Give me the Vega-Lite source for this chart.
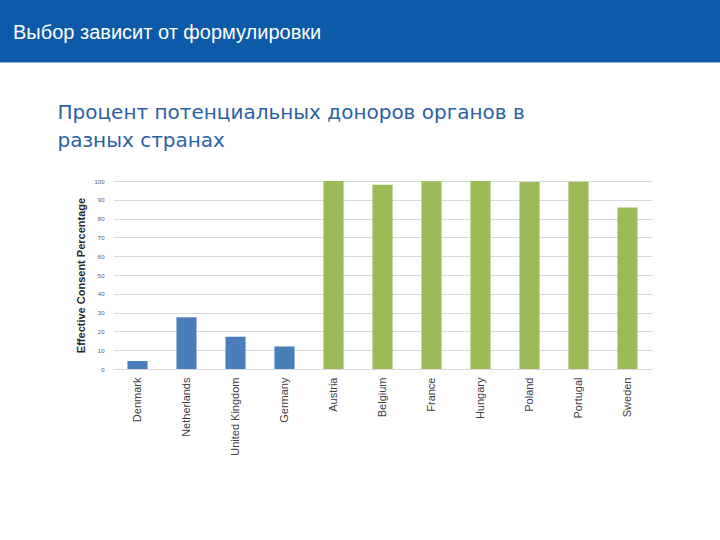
{
  "$schema": "https://vega.github.io/schema/vega-lite/v6.json",
  "width": 720,
  "height": 540,
  "autosize": "none",
  "padding": 0,
  "background": "#ffffff",
  "view": {
    "stroke": null,
    "fill": {
      "gradient": "linear",
      "x1": 0, "y1": 0, "x2": 0, "y2": 1,
      "stops": [
        {"offset": 0, "color": "#0c5aa8"},
        {"offset": 0.1148, "color": "#0c5aa8"},
        {"offset": 0.1149, "color": "#8fb0da"},
        {"offset": 0.1166, "color": "#8fb0da"},
        {"offset": 0.1167, "color": "#ffffff"},
        {"offset": 1, "color": "#ffffff"}
      ]
    }
  },
  "title": {
    "text": "Выбор зависит от формулировки",
    "anchor": "start",
    "frame": "group",
    "orient": "top",
    "offset": -43,
    "dx": 13,
    "color": "#ffffff",
    "font": "Liberation Sans",
    "fontSize": 20,
    "fontWeight": "normal"
  },
  "data": {
    "values": [
      {"country": "Denmark", "value": 4.25, "group": "Explicit consent"},
      {"country": "Netherlands", "value": 27.5, "group": "Explicit consent"},
      {"country": "United Kingdom", "value": 17.17, "group": "Explicit consent"},
      {"country": "Germany", "value": 12, "group": "Explicit consent"},
      {"country": "Austria", "value": 99.98, "group": "Presumed consent"},
      {"country": "Belgium", "value": 98, "group": "Presumed consent"},
      {"country": "France", "value": 99.91, "group": "Presumed consent"},
      {"country": "Hungary", "value": 99.97, "group": "Presumed consent"},
      {"country": "Poland", "value": 99.5, "group": "Presumed consent"},
      {"country": "Portugal", "value": 99.64, "group": "Presumed consent"},
      {"country": "Sweden", "value": 85.9, "group": "Presumed consent"}
    ]
  },
  "mark": {"type": "bar"},
  "encoding": {
    "x": {
      "field": "country",
      "type": "nominal",
      "sort": null,
      "scale": {"range": [113, 652], "paddingInner": 0.59, "paddingOuter": 0.295},
      "axis": {
        "offset": -171,
        "labelAngle": -90,
        "ticks": false,
        "domain": true,
        "domainColor": "#d9d9d9",
        "grid": false,
        "labelFont": "Liberation Sans",
        "labelFontSize": 11,
        "labelColor": "#404040",
        "labelPadding": 8,
        "labelLimit": 0,
        "title": ["Процент потенциальных доноров органов в", "разных странах"],
        "titleX": 57,
        "titleY": -267,
        "titleAlign": "left",
        "titleAnchor": "start",
        "titleBaseline": "top",
        "titleFont": "DejaVu Sans",
        "titleFontSize": 20,
        "titleFontWeight": "normal",
        "titleColor": "#2b5fa6",
        "titleLineHeight": 28
      }
    },
    "y": {
      "field": "value",
      "type": "quantitative",
      "scale": {"domain": [0, 100], "range": [369, 181], "nice": false},
      "axis": {
        "offset": -113,
        "values": [0, 10, 20, 30, 40, 50, 60, 70, 80, 90, 100],
        "ticks": false,
        "domain": false,
        "grid": true,
        "gridColor": "#d9d9d9",
        "gridWidth": 1,
        "labelFont": "Liberation Sans",
        "labelFontSize": 6,
        "labelColor": "#595959",
        "labelPadding": 9,
        "title": "Effective Consent Percentage",
        "titleFont": "Liberation Sans",
        "titleFontSize": 11,
        "titleFontWeight": "bold",
        "titleColor": "#262626",
        "titlePadding": 7
      }
    },
    "color": {
      "field": "group",
      "type": "nominal",
      "scale": {"domain": ["Explicit consent", "Presumed consent"], "range": ["#4a7ebb", "#9bbb59"]},
      "legend": null
    }
  }
}
